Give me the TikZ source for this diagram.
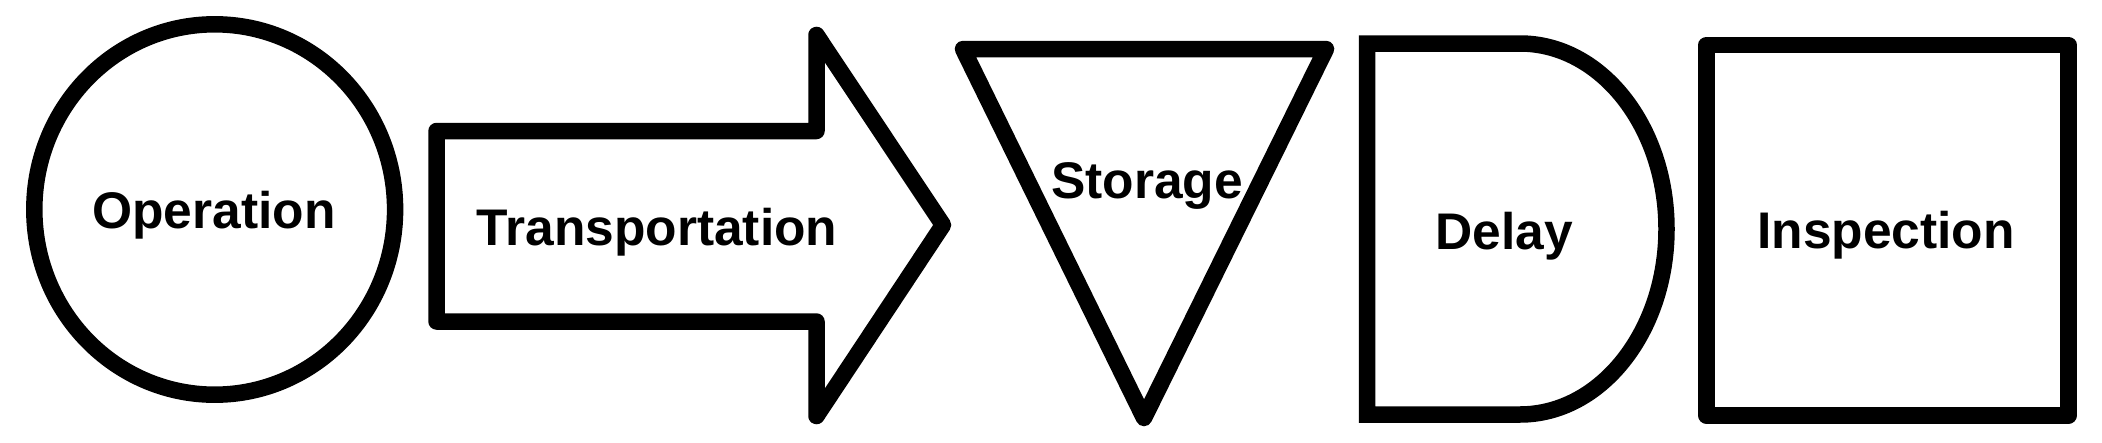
\documentclass[tikz,border=0pt]{standalone}
\usepackage{fontspec}
\setmainfont{Liberation Sans}
\begin{document}
\begin{tikzpicture}[x=1pt,y=-1pt,
  shapeline/.style={draw=black,line width=16.5pt,fill=white},
  lbl/.style={inner sep=0pt,anchor=base,font=\fontsize{51.5}{60}\selectfont\bfseries}]
\useasboundingbox[fill=white] (0,0) rectangle (2102,442);
% Operation
\draw[shapeline] (214.7,209.5) ellipse[x radius=180.4,y radius=185.2];
\node[lbl] (op) at (214,228) {Operation};
% Transportation
\draw[shapeline,line join=round] (436.5,131) -- (816.5,131) -- (816.5,35) -- (943,225) -- (816.5,416) -- (816.5,321.5) -- (436.5,321.5) -- cycle;
\node[lbl] (tr) at (657,245) {Transportation};
% Storage
\draw[shapeline,line join=round] (963,49) -- (1326,49) -- (1144,418) -- cycle;
\node[lbl] (st) at (1147,198) {Storage};
% Delay
\draw[shapeline,line join=miter] (1367,43.5) -- (1520,43.5) arc[start angle=-90,end angle=90,x radius=146.5,y radius=185.5] -- (1367,414.5) -- cycle;
\node[lbl] (de) at (1504,249) {Delay};
% Inspection
\draw[shapeline,line join=round] (1706.5,45) rectangle (2068.5,415.5);
\node[lbl] (in) at (1886,248) {Inspection};
\end{tikzpicture}
\end{document}
